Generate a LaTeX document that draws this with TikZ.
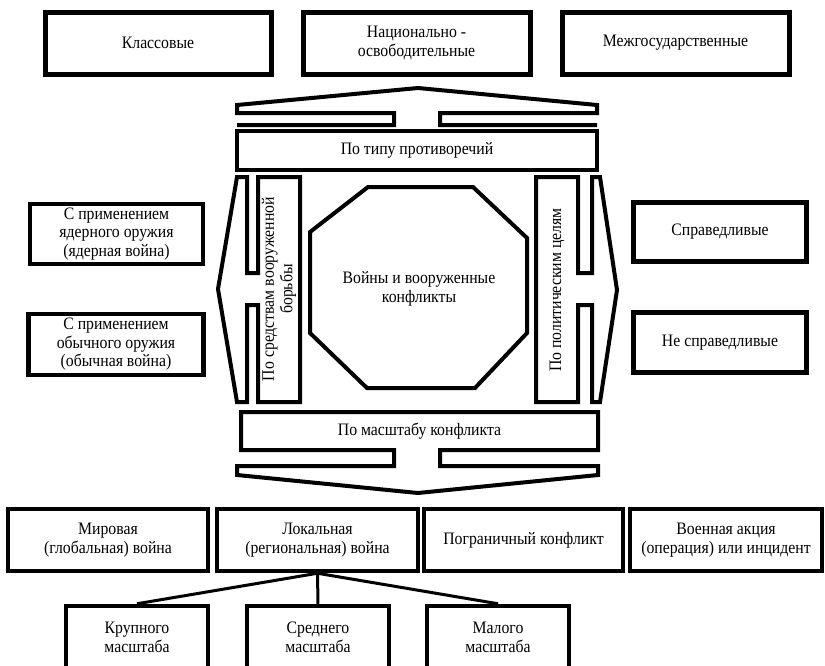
\documentclass[tikz,border=0pt]{standalone}
\usepackage{fontspec}
\setmainfont{Liberation Serif}[FakeStretch=0.9]
\begin{document}
\begin{tikzpicture}[x=1pt,y=-1pt]
\tikzset{
  bx/.style={draw, line width=4.5pt, align=center, inner sep=0pt, font=\fontsize{17.5}{18.5}\selectfont},
  co/.style={draw, line width=4pt, line join=miter, miter limit=20},
  txt/.style={align=center, inner sep=0pt, font=\fontsize{17.5}{18.5}\selectfont},
  link/.style={draw, line width=3pt},
}
\useasboundingbox (0,0) rectangle (825,665);
\clip (0,0) rectangle (825,665);

% top row
\node[bx, line width=5pt, minimum width=226pt, minimum height=62pt] (klass) at (158,43) {Классовые};
\node[bx, line width=5pt, minimum width=227pt, minimum height=62pt] (nats) at (416.5,43) {Национально -\\освободительные};
\node[bx, line width=5pt, minimum width=227pt, minimum height=62pt] (mezh) at (675.5,43) {Межгосударственные};

% top callout (up arrow)
\draw[co] (237,125) -- (394,125) -- (394,113) -- (237,113) -- (237,105) -- (418,88)
  -- (597,105) -- (597,113) -- (440,113) -- (440,125) -- (597,125);
\node[bx, line width=4pt, minimum width=360pt, minimum height=39pt] (tip) at (417,150.5) {По типу противоречий};

% bottom callout (down arrow)
\draw[co] (241,412) -- (598,412) -- (598,450) -- (440,450) -- (440,466) -- (598,466)
  -- (598,475) -- (418,493) -- (237,475) -- (237,466) -- (394,466) -- (394,450)
  -- (241,450) -- cycle;
\node[txt] (mas) at (419.5,431) {По масштабу конфликта};

% left callout
\draw[co] (300,177) -- (258,177) -- (258,273) -- (247,273) -- (247,177) -- (237,177)
  -- (218,289) -- (237,402) -- (247,402) -- (247,305) -- (258,305) -- (258,402)
  -- (300,402) -- cycle;
\node[txt, rotate=90] (sred) at (279,289) {По средствам вооруженной\\борьбы};

% right callout
\draw[co] (536,177) -- (578,177) -- (578,273) -- (592,273) -- (592,177) -- (600,177)
  -- (617,290) -- (600,402) -- (592,402) -- (592,305) -- (578,305) -- (578,402)
  -- (536,402) -- cycle;
\node[txt, rotate=90] (polit) at (557,290) {По политическим целям};

% central octagon
\draw[co] (368,187) -- (473,187) -- (527,238) -- (527,333) -- (475,388) -- (367,388)
  -- (310,333) -- (310,232) -- cycle;
\node[txt] (war) at (419,289) {Войны и вооруженные\\конфликты};

% side boxes
\node[bx, minimum width=173pt, minimum height=60pt] (yad) at (116.5,234) {С применением\\ядерного оружия\\(ядерная война)};
\node[bx, minimum width=175pt, minimum height=61pt] (obych) at (116,344.5) {С применением\\обычного оружия\\(обычная война)};
\node[bx, minimum width=173pt, minimum height=59pt] (sprav) at (720,232) {Справедливые};
\node[bx, minimum width=173pt, minimum height=60pt] (nesprav) at (720,342.5) {Не справедливые};

% bottom row 1
\node[bx, minimum width=200pt, minimum height=62pt] (mir) at (108,540) {Мировая\\(глобальная) война};
\node[bx, minimum width=201pt, minimum height=62pt] (lok) at (317.5,540) {Локальная\\(региональная) война};
\node[bx, minimum width=199pt, minimum height=62pt] (pogr) at (523.5,540) {Пограничный конфликт};
\node[bx, minimum width=192pt, minimum height=62pt] (voen) at (726,540) {Военная акция\\(операция) или инцидент};

% bottom row 2
\node[bx, minimum width=142pt, minimum height=63pt] (krup) at (137,637.5) {Крупного\\масштаба};
\node[bx, minimum width=142pt, minimum height=63pt] (sredm) at (318,637.5) {Среднего\\масштаба};
\node[bx, minimum width=142pt, minimum height=63pt] (mal) at (498,637.5) {Малого\\масштаба};

\draw[link] (lok.south) -- (krup.north);
\draw[link] (lok.south) -- (sredm.north);
\draw[link] (lok.south) -- (mal.north);
\end{tikzpicture}
\end{document}
